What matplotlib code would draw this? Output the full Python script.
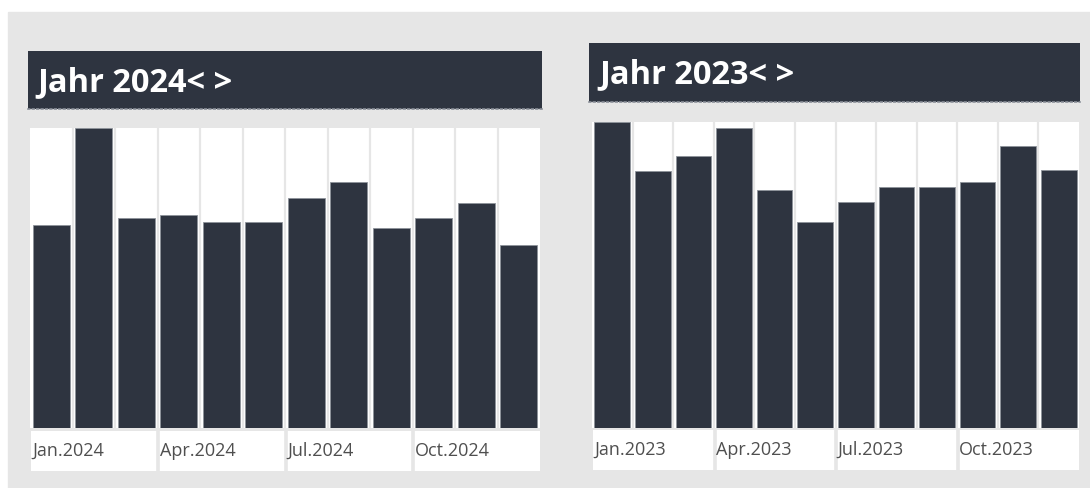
import matplotlib.pyplot as plt
from matplotlib.patches import Rectangle

plt.rcParams['font.family'] = ['Open Sans', 'DejaVu Sans']

# monthly values (arbitrary units)
monate = ["Jan", "Feb", "Mar", "Apr", "May", "Jun", "Jul", "Aug", "Sep", "Oct", "Nov", "Dec"]
werte_2024 = [203, 300, 210, 213, 206, 206, 230, 246, 200, 210, 225, 183]
werte_2023 = [306, 257, 272, 300, 238, 206, 226, 241, 241, 246, 282, 258]
quartale = ["Jan", "Apr", "Jul", "Oct"]

W, H = 1090, 488
DUNKEL = "#2e3440"
GRAU = "#e6e6e6"


def box(x0, y0, x1, y1):
    # pixel box (top-left origin) -> figure fraction
    return [x0 / W, 1 - y1 / H, (x1 - x0) / W, (y1 - y0) / H]


fig = plt.figure(figsize=(W / 100, H / 100), dpi=100)
fig.patch.set_facecolor("white")
fig.add_artist(Rectangle((8 / W, 0), 1 - 8 / W, 1 - 12 / H,
                         transform=fig.transFigure, color=GRAU, zorder=-5))


def panel(jahr, werte, titel_box, chart_box, label_box, text_dx):
    # title bar
    ax_t = fig.add_axes(box(*titel_box))
    ax_t.set_facecolor(DUNKEL)
    ax_t.set_xticks([])
    ax_t.set_yticks([])
    for s in ["top", "left", "right"]:
        ax_t.spines[s].set_visible(False)
    ax_t.spines["bottom"].set_color("#8a8f98")
    ax_t.spines["bottom"].set_linestyle(":")
    ax_t.spines["bottom"].set_linewidth(1.2)
    ax_t.text(text_dx / (titel_box[2] - titel_box[0]), 0.46, f"Jahr {jahr}< >",
              transform=ax_t.transAxes, color="white", fontsize=23.5,
              fontweight="bold", va="center", ha="left")

    # bars
    ax = fig.add_axes(box(*chart_box))
    ax.set_facecolor("white")
    x = range(len(werte))
    ax.bar(x, werte, width=0.88, color=DUNKEL, edgecolor="#8d929a",
           linewidth=0.6, zorder=3)
    for i in range(len(werte) - 1):
        ax.axvline(i + 0.5, color=GRAU, linewidth=1.6, zorder=1)
    ax.set_xlim(-0.5, len(werte) - 0.5)
    ax.set_ylim(0, max(werte))
    ax.set_xticks([])
    ax.set_yticks([])
    for s in ax.spines.values():
        s.set_visible(False)

    # quarter labels
    ax_l = fig.add_axes(box(*label_box))
    ax_l.set_facecolor("white")
    ax_l.set_xlim(-0.5, len(werte) - 0.5)
    ax_l.set_ylim(0, 1)
    for q, name in enumerate(quartale):
        if q > 0:
            ax_l.axvline(q * 3 - 0.5, color=GRAU, linewidth=2.6)
        ax_l.text(q * 3 - 0.46, 0.5, f"{name}.{jahr}", color="#4f4f4f",
                  fontsize=13, va="center", ha="left")
    ax_l.set_xticks([])
    ax_l.set_yticks([])
    for s in ax_l.spines.values():
        s.set_visible(False)


panel(2024, werte_2024, (28, 51, 542, 109), (30, 128, 540, 428), (31, 431, 540, 471), 9)
panel(2023, werte_2023, (589, 43, 1080, 102), (592, 122, 1079, 428), (593, 430, 1079, 470), 10)

fig.savefig("out.png", dpi=100)
